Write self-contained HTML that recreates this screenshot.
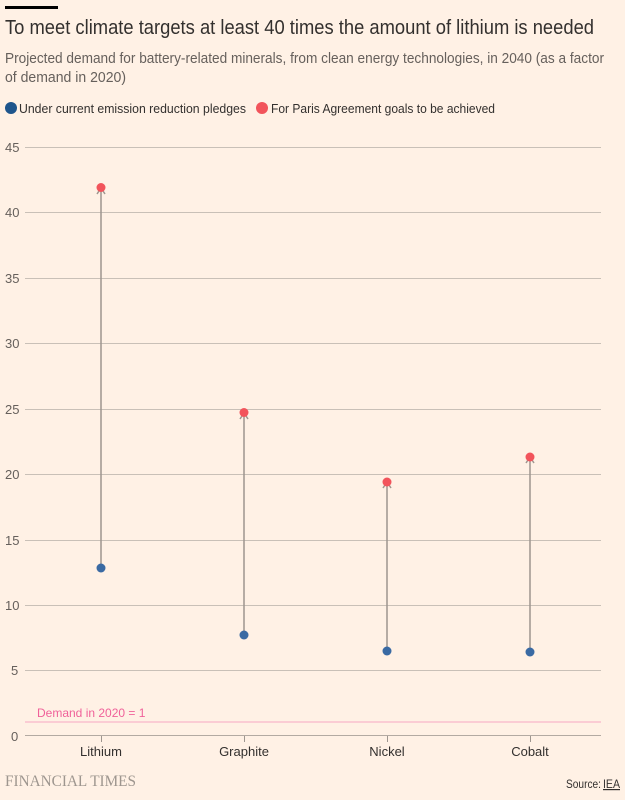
<!DOCTYPE html>
<html><head><meta charset="utf-8"><style>
body{margin:0;background:#fff1e5;}
svg{display:block;font-family:"Liberation Sans",sans-serif;}
</style></head><body>
<svg width="625" height="800" viewBox="0 0 625 800">
<rect width="625" height="800" fill="#fff1e5"/>
<rect x="5" y="6" width="53" height="3" fill="#000"/>
<text x="5" y="34" font-size="20" fill="#33302e" textLength="589" lengthAdjust="spacingAndGlyphs">To meet climate targets at least 40 times the amount of lithium is needed</text>
<text x="5" y="63" font-size="14.5" fill="#66605c" textLength="599" lengthAdjust="spacingAndGlyphs">Projected demand for battery-related minerals, from clean energy technologies, in 2040 (as a factor</text>
<text x="5" y="82" font-size="14.5" fill="#66605c" textLength="121" lengthAdjust="spacingAndGlyphs">of demand in 2020)</text>
<circle cx="11" cy="108" r="6" fill="#1e558c"/>
<text x="19" y="113" font-size="13" fill="#33302e" textLength="227" lengthAdjust="spacingAndGlyphs">Under current emission reduction pledges</text>
<circle cx="262" cy="108" r="6" fill="#f2545b"/>
<text x="271" y="113" font-size="13" fill="#33302e" textLength="224" lengthAdjust="spacingAndGlyphs">For Paris Agreement goals to be achieved</text>
<g stroke="#c9c0b7" stroke-width="1">
<line x1="25" x2="601" y1="147.5" y2="147.5"/>
<line x1="25" x2="601" y1="212.5" y2="212.5"/>
<line x1="25" x2="601" y1="278.5" y2="278.5"/>
<line x1="25" x2="601" y1="343.5" y2="343.5"/>
<line x1="25" x2="601" y1="409.5" y2="409.5"/>
<line x1="25" x2="601" y1="474.5" y2="474.5"/>
<line x1="25" x2="601" y1="540.5" y2="540.5"/>
<line x1="25" x2="601" y1="605.5" y2="605.5"/>
<line x1="25" x2="601" y1="670.5" y2="670.5"/>
<line x1="25" x2="601" y1="735.5" y2="735.5" stroke="#b3aaa2"/>
<line x1="101.5" x2="101.5" y1="736" y2="742" stroke="#9e968f"/>
<line x1="244.5" x2="244.5" y1="736" y2="742" stroke="#9e968f"/>
<line x1="387.5" x2="387.5" y1="736" y2="742" stroke="#9e968f"/>
<line x1="530.5" x2="530.5" y1="736" y2="742" stroke="#9e968f"/>
</g>
<g font-size="13" fill="#66605c">
<text x="5" y="152">45</text><text x="5" y="217">40</text><text x="5" y="283">35</text>
<text x="5" y="348">30</text><text x="5" y="414">25</text><text x="5" y="479">20</text>
<text x="5" y="545">15</text><text x="5" y="610">10</text><text x="11" y="675">5</text>
<text x="11" y="741">0</text>
</g>
<line x1="25" x2="601" y1="722" y2="722" stroke="#f7a8c4" stroke-width="1"/>
<text x="37" y="717" font-size="12" fill="#f0619a">Demand in 2020 = 1</text>
<g stroke="#9e968f" stroke-width="1.5" fill="none">
<line x1="101" y1="568" x2="101" y2="188"/><polyline points="97,194 101,188 105,194"/>
<line x1="244" y1="635" x2="244" y2="413"/><polyline points="240,419 244,413 248,419"/>
<line x1="387" y1="651" x2="387" y2="482"/><polyline points="383,488 387,482 391,488"/>
<line x1="530" y1="652" x2="530" y2="457"/><polyline points="526,463 530,457 534,463"/>
</g>
<g fill="#f2545b">
<circle cx="101" cy="187.5" r="4.5"/><circle cx="244" cy="412.5" r="4.5"/>
<circle cx="387" cy="482" r="4.5"/><circle cx="530" cy="457" r="4.5"/>
</g>
<g fill="#3a6aa3">
<circle cx="101" cy="568" r="4.5"/><circle cx="244" cy="635" r="4.5"/>
<circle cx="387" cy="651" r="4.5"/><circle cx="530" cy="652" r="4.5"/>
</g>
<g font-size="13" fill="#33302e" text-anchor="middle">
<text x="101" y="756">Lithium</text><text x="244" y="756">Graphite</text>
<text x="387" y="756">Nickel</text><text x="530" y="756">Cobalt</text>
</g>
<text x="5" y="786" font-family="Liberation Serif,serif" font-size="15.5" fill="#9e968f" textLength="131" lengthAdjust="spacingAndGlyphs">FINANCIAL TIMES</text>
<text x="566" y="788" font-size="12" fill="#33302e" textLength="35" lengthAdjust="spacingAndGlyphs">Source:</text>
<text x="603" y="788" font-size="12" fill="#33302e" text-decoration="underline" textLength="17" lengthAdjust="spacingAndGlyphs">IEA</text>
</svg>
</body></html>
